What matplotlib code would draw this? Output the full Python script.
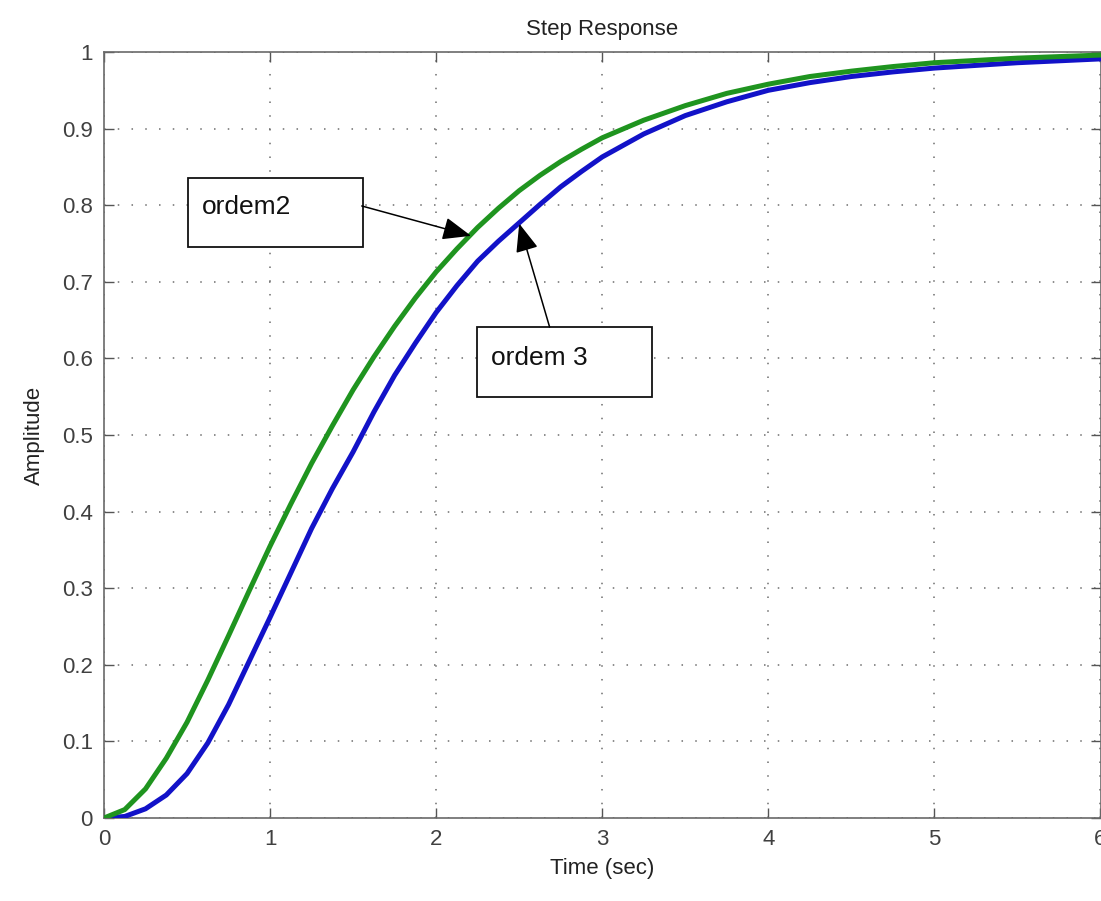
import matplotlib
matplotlib.use("Agg")
import matplotlib.pyplot as plt
from matplotlib.patches import Rectangle

# ---- data ----
time = [0, 0.125, 0.25, 0.375, 0.5, 0.625, 0.75, 0.875, 1.0, 1.125, 1.25,
        1.375, 1.5, 1.625, 1.75, 1.875, 2.0, 2.125, 2.25, 2.375, 2.5, 2.625,
        2.75, 2.875, 3.0, 3.25, 3.5, 3.75, 4.0, 4.25, 4.5, 4.75, 5.0, 5.5, 6.0]
ordem2 = [0, 0.011, 0.038, 0.078, 0.125, 0.180, 0.238, 0.297, 0.355, 0.410,
          0.463, 0.512, 0.559, 0.602, 0.642, 0.679, 0.713, 0.743, 0.771,
          0.796, 0.819, 0.839, 0.857, 0.873, 0.888, 0.911, 0.930, 0.946,
          0.958, 0.968, 0.975, 0.981, 0.986, 0.992, 0.996]
ordem3 = [0, 0.002, 0.012, 0.030, 0.058, 0.098, 0.148, 0.205, 0.262, 0.320,
          0.378, 0.430, 0.478, 0.530, 0.578, 0.620, 0.660, 0.695, 0.727,
          0.753, 0.777, 0.801, 0.824, 0.844, 0.863, 0.893, 0.917, 0.935,
          0.950, 0.960, 0.968, 0.974, 0.979, 0.986, 0.991]

xticks = [0, 1, 2, 3, 4, 5, 6]
yticks = [0, 0.1, 0.2, 0.3, 0.4, 0.5, 0.6, 0.7, 0.8, 0.9, 1.0]
ytick_labels = ["0", "0.1", "0.2", "0.3", "0.4", "0.5", "0.6", "0.7", "0.8", "0.9", "1"]

title = "Step Response"
xlabel = "Time (sec)"
ylabel = "Amplitude"

label2 = "ordem2"
label3 = "ordem 3"

# ---- figure ----
regular = ["Liberation Sans", "DejaVu Sans"]
txt_color = "#404040"

fig = plt.figure(figsize=(11.01, 9.01), dpi=100)
ax = fig.add_axes([104 / 1101, 83 / 901, (1100.5 - 104) / 1101, 766 / 901])

ax.plot(time, ordem3, color="#1212c8", lw=3.6, solid_joinstyle="round",
        solid_capstyle="round", zorder=3)
ax.plot(time, ordem2, color="#1f941f", lw=3.6, solid_joinstyle="round",
        solid_capstyle="round", zorder=4)

ax.set_xlim(0, 6)
ax.set_ylim(0, 1)
ax.set_xticks(xticks)
ax.set_xticklabels([str(v) for v in xticks], family=regular, fontsize=16,
                   color=txt_color, stretch="condensed")
ax.set_yticks(yticks)
ax.set_yticklabels(ytick_labels, family=regular, fontsize=16, color=txt_color)
ax.tick_params(direction="in", length=7, width=1, color="#555555",
               top=True, right=True, pad=8)

ax.grid(True, color="#6e6e6e", linestyle=(0, (1, 8)), linewidth=1.1)
for s in ax.spines.values():
    s.set_color("#6a6a6a")
    s.set_linewidth(1.2)

ax.set_title(title, family=regular, fontsize=16, color="#222222", pad=12)
ax.set_xlabel(xlabel, family=regular, fontsize=16, color="#222222", labelpad=6)
ax.set_ylabel(ylabel, family=regular, fontsize=16, color="#222222", labelpad=12)

# ---- annotations (text boxes with arrows) ----
arrow_style = dict(arrowstyle="-|>,head_length=0.8,head_width=0.32",
                   color="black", lw=1.1, mutation_scale=22,
                   shrinkA=0, shrinkB=0)

ax.add_patch(Rectangle((0.505, 0.745), 1.053, 0.091, fill=True, facecolor="white",
                       edgecolor="#111111", lw=1.3, zorder=5))
ax.text(0.59, 0.797, label2, family=regular, fontsize=19, color="#111111",
        va="center", ha="left", zorder=6)
ax.annotate("", xy=(2.21, 0.760), xytext=(1.552, 0.799),
            arrowprops=arrow_style, zorder=6)

ax.add_patch(Rectangle((2.244, 0.550), 1.053, 0.091, fill=True, facecolor="white",
                       edgecolor="#111111", lw=1.3, zorder=5))
ax.text(2.33, 0.601, label3, family=regular, fontsize=19, color="#111111",
        va="center", ha="left", zorder=6)
ax.annotate("", xy=(2.50, 0.776), xytext=(2.683, 0.641),
            arrowprops=arrow_style, zorder=6)

fig.savefig("out.png", dpi=100)
